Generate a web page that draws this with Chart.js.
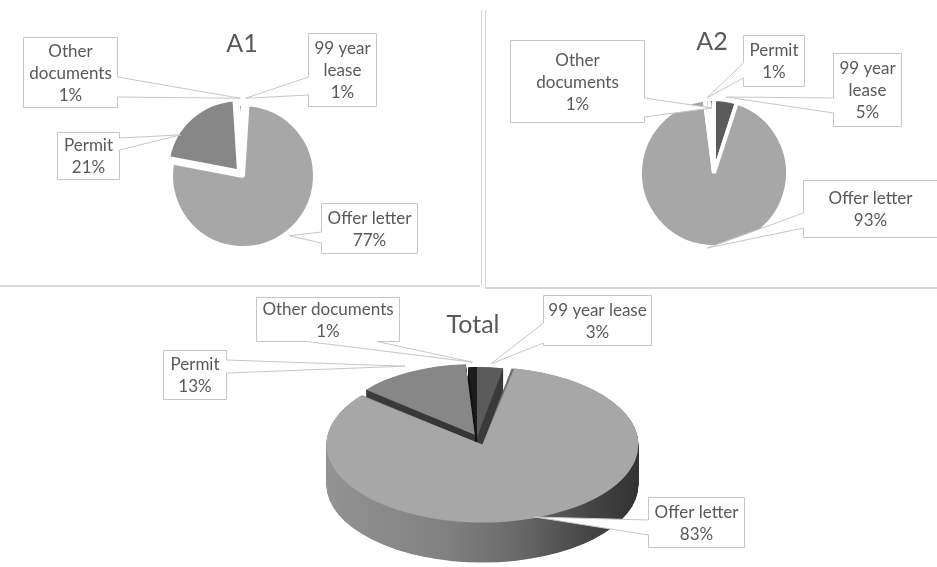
<!DOCTYPE html>
<html>
<head>
<meta charset="utf-8">
<title>Documents held</title>
<script src="https://cdn.jsdelivr.net/npm/chart.js@4.4.1/dist/chart.umd.min.js"></script>
<style>
  html, body { margin: 0; padding: 0; background: #fff; }
  #wrap { position: relative; width: 937px; height: 567px; overflow: hidden; }
  #wrap canvas { position: absolute; left: 0; top: 0; }
  .rule { position: absolute; background: #d6d6d6; }
</style>
</head>
<body>
<div id="wrap">
  <div class="rule" style="left:0;top:285px;width:480px;height:2px"></div>
  <div class="rule" style="left:481px;top:10px;width:1px;height:276px"></div>
  <div class="rule" style="left:485px;top:10px;width:1px;height:278px"></div>
  <div class="rule" style="left:485px;top:287px;width:452px;height:2px"></div>
  <canvas id="chartA1" width="937" height="567"></canvas>
  <canvas id="chartA2" width="937" height="567"></canvas>
  <canvas id="chartTotal" width="937" height="567"></canvas>
</div>
<script>
(() => {
  "use strict";

  // series (order = clockwise from 12 o'clock)
  const categories = ["99 year lease", "Offer letter", "Permit", "Other documents"];
  const valuesA1 = [1, 77, 21, 1];
  const valuesA2 = [5, 93, 1, 1];
  const valuesTotal = [3, 83, 13, 1];

  const sliceFills = ["#5b5b5b", "#a7a7a7", "#878787", "#1c1c1c"];
  const sideFills = [
    [[0, "#4a4a4a"], [1, "#2c2c2c"]],
    [[0, "#949494"], [0.4, "#818181"], [0.62, "#6a6a6a"], [0.85, "#454545"], [1, "#333"]],
    [[0, "#3e3e3e"], [1, "#2a2a2a"]],
    [[0, "#111"], [1, "#111"]]
  ];

  const W = 937, H = 567;
  const LABEL_FONT = "17px Lato, 'Open Sans', sans-serif";
  const TITLE_FONT = "25px Lato, 'Open Sans', sans-serif";
  const TEXT = "#595959";
  const EDGE = "#c6c6c6";

  // padding that puts the chart area centre on (cx, cy)
  function padAround(cx, cy) {
    return {
      left: Math.max(0, 2 * cx - W), right: Math.max(0, W - 2 * cx),
      top: Math.max(0, 2 * cy - H), bottom: Math.max(0, H - 2 * cy)
    };
  }

  // same geometry the arc element uses when it draws an offset slice
  function wedgePath(ctx, arc, dy) {
    const p = arc.getProps(["x", "y", "startAngle", "endAngle", "outerRadius", "circumference"]);
    const off = (arc.options.offset || 0) / 4;
    const mid = (p.startAngle + p.endAngle) / 2;
    const fix = 1 - Math.sin(Math.min(Math.PI, p.circumference || 0));
    const ox = p.x + Math.cos(mid) * off;
    const oy = p.y + Math.sin(mid) * off + dy;
    ctx.beginPath();
    ctx.moveTo(ox, oy);
    ctx.arc(ox, oy, p.outerRadius + off * fix, p.startAngle, p.endAngle);
    ctx.closePath();
  }

  function anchorOf(arc, rf, at, tilt) {
    const p = arc.getProps(["x", "y", "startAngle", "endAngle", "outerRadius"]);
    const a = p.startAngle + (p.endAngle - p.startAngle) * at;
    const mid = (p.startAngle + p.endAngle) / 2;
    const off = (arc.options.offset || 0) / 4;
    const x = p.x + Math.cos(mid) * off + Math.cos(a) * p.outerRadius * rf;
    const y = p.y + Math.sin(mid) * off + Math.sin(a) * p.outerRadius * rf;
    return [x, p.y + (y - p.y) * tilt];
  }

  function wrap(ctx, text, maxW) {
    const lines = [];
    let cur = "";
    for (const w of text.split(" ")) {
      const t = cur ? cur + " " + w : w;
      if (cur && ctx.measureText(t).width > maxW) { lines.push(cur); cur = w; }
      else cur = t;
    }
    lines.push(cur);
    return lines;
  }

  function calloutPath(ctx, box, side, tail, ax, ay) {
    const [x, y, w, h] = box;
    const L = x + 0.5, T = y + 0.5, R = x + w - 0.5, B = y + h - 0.5;
    ctx.beginPath();
    ctx.moveTo(L, T);
    ctx.lineTo(R, T);
    if (side === "right") { ctx.lineTo(R, tail[0]); ctx.lineTo(ax, ay); ctx.lineTo(R, tail[1]); }
    ctx.lineTo(R, B);
    if (side === "bottom") { ctx.lineTo(tail[1], B); ctx.lineTo(ax, ay); ctx.lineTo(tail[0], B); }
    ctx.lineTo(L, B);
    if (side === "left") { ctx.lineTo(L, tail[1]); ctx.lineTo(ax, ay); ctx.lineTo(L, tail[0]); }
    ctx.closePath();
  }

  // data callouts + chart title
  function callouts(items, title, tilt = 1) {
    return {
      id: "callouts",
      afterDraw(chart) {
        const ctx = chart.ctx;
        const arcs = chart.getDatasetMeta(0).data;
        const values = chart.data.datasets[0].data;
        ctx.save();
        ctx.font = LABEL_FONT;
        ctx.lineWidth = 1;
        ctx.textAlign = "center";
        ctx.textBaseline = "alphabetic";
        for (const c of items) {
          const [ax, ay] = anchorOf(arcs[c.i], c.r, c.at ?? 0.5, tilt);
          calloutPath(ctx, c.box, c.side, c.tail, ax, ay);
          ctx.fillStyle = "#fff";
          ctx.fill();
          ctx.strokeStyle = EDGE;
          ctx.stroke();

          const [x, y, w, h] = c.box;
          const lines = wrap(ctx, chart.data.labels[c.i], w - 8).concat(values[c.i] + "%");
          const lh = 22, cap = 12;
          const cx = x + w / 2, cy = y + h / 2;
          ctx.fillStyle = TEXT;
          lines.forEach((ln, k) => {
            ctx.fillText(ln, cx, cy + (k - (lines.length - 1) / 2) * lh + cap / 2);
          });
        }
        ctx.font = TITLE_FONT;
        ctx.fillStyle = TEXT;
        ctx.fillText(title.text, title.x, title.y);
        ctx.restore();
      }
    };
  }

  // squashes the pie into an ellipse and extrudes a wall under it
  function tiltedPie(tilt, depth) {
    return {
      id: "tiltedPie",
      beforeDatasetsDraw(chart) {
        const ctx = chart.ctx;
        const arcs = chart.getDatasetMeta(0).data;
        const cx = arcs[0].x, cy = arcs[0].y;
        ctx.save();
        ctx.translate(cx, cy);
        ctx.scale(1, tilt);
        ctx.translate(-cx, -cy);
        const R = Math.max(...arcs.map(a => a.outerRadius)) + 20;
        const walls = sideFills.map(stops => {
          const g = ctx.createLinearGradient(cx - R, 0, cx + R, 0);
          stops.forEach(([p, col]) => g.addColorStop(p, col));
          return g;
        });
        for (let d = depth / tilt; d > 0; d -= 1) {
          arcs.forEach((arc, i) => {
            wedgePath(ctx, arc, d);
            ctx.fillStyle = walls[i];
            ctx.fill();
          });
        }
      },
      afterDatasetsDraw(chart) {
        chart.ctx.restore();
      }
    };
  }

  function pieChart(id, values, cfg) {
    return new Chart(document.getElementById(id), {
      type: "pie",
      data: {
        labels: categories,
        datasets: [{
          data: values,
          backgroundColor: sliceFills,
          borderColor: "#fff",
          borderWidth: cfg.border,
          offset: cfg.offsets,
          clip: false
        }]
      },
      options: {
        responsive: false,
        animation: false,
        events: [],
        radius: cfg.radius,
        layout: { padding: padAround(cfg.cx, cfg.cy) },
        plugins: { legend: { display: false }, tooltip: { enabled: false } }
      },
      plugins: cfg.plugins
    });
  }

  pieChart("chartA1", valuesA1, {
    cx: 243, cy: 176, radius: 72, border: 4, offsets: [0, 0, 24, 0],
    plugins: [callouts([
      { i: 0, box: [308, 33, 69, 74], side: "left", tail: [77, 95], r: 1.08 },
      { i: 1, box: [321, 203, 97, 51], side: "left", tail: [232, 243], r: 1.05 },
      { i: 2, box: [57, 132, 63, 48], side: "right", tail: [138, 150], r: 0.96, at: 0.28 },
      { i: 3, box: [23, 37, 95, 71], side: "right", tail: [77, 97], r: 1.08 }
    ], { text: "A1", x: 242, y: 52 })]
  });

  pieChart("chartA2", valuesA2, {
    cx: 714, cy: 173, radius: 74, border: 4, offsets: [0, 0, 0, 0],
    plugins: [callouts([
      { i: 0, box: [833, 53, 69, 74], side: "left", tail: [98, 113], r: 1.04 },
      { i: 1, box: [803, 180, 135, 58], side: "left", tail: [213, 228], r: 1.02 },
      { i: 2, box: [743, 35, 62, 52], side: "left", tail: [63, 78], r: 1.02 },
      { i: 3, box: [510, 40, 135, 83], side: "right", tail: [98, 117], r: 0.88 }
    ], { text: "A2", x: 712, y: 50 })]
  });

  const TILT = 0.5;
  pieChart("chartTotal", valuesTotal, {
    cx: 477, cy: 437, radius: 140, border: 0, offsets: [0, 64, 20, 0],
    plugins: [tiltedPie(TILT, 40), callouts([
      { i: 0, box: [543, 295, 109, 51], side: "left", tail: [323, 343], r: 1.05 },
      { i: 1, box: [648, 497, 97, 51], side: "left", tail: [520, 535], r: 1.1 },
      { i: 2, box: [163, 350, 64, 50], side: "right", tail: [360, 373], r: 1.1 },
      { i: 3, box: [256, 297, 144, 45], side: "bottom", tail: [307, 377], r: 1.07 }
    ], { text: "Total", x: 473, y: 333 }, TILT)]
  });
})();
</script>
</body>
</html>
